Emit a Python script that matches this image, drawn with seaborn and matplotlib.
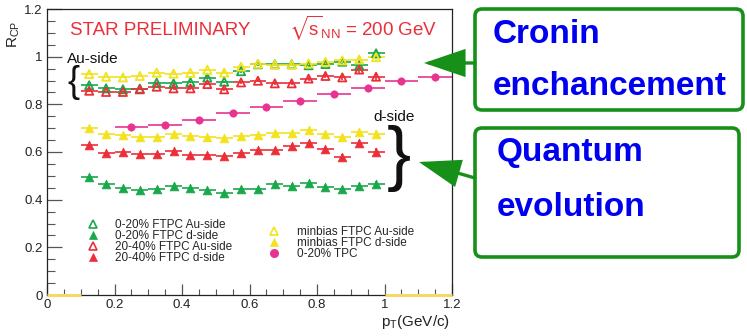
import pandas as pd
import matplotlib
matplotlib.use('Agg')
import matplotlib.pyplot as plt
import seaborn as sns
from matplotlib.lines import Line2D
from matplotlib.patches import FancyBboxPatch, FancyArrowPatch

# FTPC pT bin centres and half widths
ftpc_pt = [0.125, 0.175, 0.225, 0.275, 0.325, 0.375, 0.425, 0.475, 0.525,
           0.575, 0.625, 0.675, 0.725, 0.775, 0.825, 0.875, 0.925, 0.975]
ftpc_xerr = 0.025
ftpc_yerr = [0.004, 0.004, 0.004, 0.004, 0.004, 0.005, 0.005, 0.005, 0.005,
             0.006, 0.006, 0.007, 0.007, 0.008, 0.009, 0.010, 0.013, 0.016]

# R_CP values
c020_au = [0.880, 0.867, 0.863, 0.866, 0.891, 0.888, 0.893, 0.912, 0.895,
           0.939, 0.968, 0.968, 0.968, 0.964, 0.969, 0.979, 0.963, 1.014]
c020_d = [0.496, 0.464, 0.448, 0.441, 0.445, 0.459, 0.448, 0.442, 0.429,
          0.446, 0.445, 0.466, 0.457, 0.469, 0.454, 0.445, 0.457, 0.464]
c2040_au = [0.857, 0.852, 0.852, 0.863, 0.874, 0.867, 0.867, 0.885, 0.863,
            0.892, 0.899, 0.888, 0.888, 0.908, 0.919, 0.913, 0.946, 0.916]
c2040_d = [0.629, 0.597, 0.601, 0.592, 0.590, 0.604, 0.587, 0.587, 0.585,
           0.596, 0.610, 0.608, 0.625, 0.639, 0.613, 0.580, 0.637, 0.600]
mb_au = [0.927, 0.916, 0.913, 0.919, 0.933, 0.929, 0.932, 0.945, 0.933,
         0.958, 0.970, 0.967, 0.967, 0.971, 0.978, 0.984, 0.988, 0.998]
mb_d = [0.699, 0.677, 0.671, 0.664, 0.664, 0.677, 0.667, 0.663, 0.660,
        0.667, 0.673, 0.680, 0.680, 0.692, 0.676, 0.662, 0.683, 0.676]

# TPC 0-20%
tpc_pt = [0.25, 0.35, 0.45, 0.55, 0.65, 0.75, 0.85, 0.95, 1.05, 1.15]
tpc_xerr = 0.05
tpc_yerr = [0.004, 0.004, 0.004, 0.004, 0.004, 0.004, 0.005, 0.005, 0.006, 0.006]
tpc_rcp = [0.704, 0.712, 0.733, 0.762, 0.790, 0.815, 0.843, 0.870, 0.897, 0.916]

# empty minbias bins drawn at zero
zero_lo = [0.0, 1.0]
zero_hi = [0.1, 1.2]

x_ticks = [0, 0.2, 0.4, 0.6, 0.8, 1.0, 1.2]
x_tick_labels = ['0', '0.2', '0.4', '0.6', '0.8', '1', '1.2']
y_ticks = [0, 0.2, 0.4, 0.6, 0.8, 1.0, 1.2]
y_tick_labels = ['0', '0.2', '0.4', '0.6', '0.8', '1', '1.2']

GREEN = '#19a84b'
RED = '#eb2f38'
YELLOW = '#f3e21e'
MAGENTA = '#e8338f'
GOLD = '#f5d76a'
BOXGREEN = '#17901a'
BLUE = '#0000f0'

series = [
    ('0-20% FTPC Au-side', c020_au, GREEN, True),
    ('0-20% FTPC d-side', c020_d, GREEN, False),
    ('20-40% FTPC Au-side', c2040_au, RED, True),
    ('20-40% FTPC d-side', c2040_d, RED, False),
    ('minbias FTPC Au-side', mb_au, YELLOW, True),
    ('minbias FTPC d-side', mb_d, YELLOW, False),
]

sns.set_theme(style='ticks')
plt.rcParams['font.family'] = ['Liberation Sans', 'DejaVu Sans']
plt.rcParams['mathtext.fontset'] = 'custom'
plt.rcParams['mathtext.rm'] = 'Liberation Sans'
plt.rcParams['mathtext.it'] = 'Liberation Sans:italic'
plt.rcParams['mathtext.fallback'] = 'stixsans'

W, H = 747, 336
fig = plt.figure(figsize=(W / 100, H / 100), dpi=100)
ax = fig.add_axes([47 / W, 1 - 295 / H, 405 / W, 286 / H])

def px(x, y):
    # pixel (top-left origin) -> figure fraction
    return x / W, 1 - y / H

# zero-content bins
ax.hlines([0] * len(zero_lo), zero_lo, zero_hi, color=GOLD, lw=2.2, zorder=3, clip_on=False)

for label, vals, col, hollow in series:
    df = pd.DataFrame({'pt': ftpc_pt, 'rcp': vals})
    ax.errorbar(df['pt'], df['rcp'], xerr=ftpc_xerr, yerr=ftpc_yerr, fmt='none',
                ecolor=col, elinewidth=1.2, capsize=0, zorder=2)
    if hollow:
        sns.scatterplot(data=df, x='pt', y='rcp', ax=ax, marker='^', s=34,
                        color=col, fc='none', ec=col, linewidth=1.3, zorder=4, legend=False)
    else:
        sns.scatterplot(data=df, x='pt', y='rcp', ax=ax, marker='^', s=40,
                        color=col, ec=col, linewidth=0.5, zorder=4, legend=False)

tpc_df = pd.DataFrame({'pt': tpc_pt, 'rcp': tpc_rcp})
ax.errorbar(tpc_df['pt'], tpc_df['rcp'], xerr=tpc_xerr, yerr=tpc_yerr, fmt='none',
            ecolor=MAGENTA, elinewidth=1.2, capsize=0, zorder=2)
sns.scatterplot(data=tpc_df, x='pt', y='rcp', ax=ax, marker='o', s=28,
                color=MAGENTA, ec=MAGENTA, linewidth=0.5, zorder=4, legend=False)

ax.set_xlim(0, 1.2)
ax.set_ylim(0, 1.2)
ax.set_xticks(x_ticks)
ax.set_xticklabels(x_tick_labels)
ax.set_yticks(y_ticks)
ax.set_yticklabels(y_tick_labels)
ax.set_xticks([t / 20 for t in range(25)], minor=True)
ax.set_yticks([t / 20 for t in range(25)], minor=True)
ax.tick_params(which='both', direction='in', top=False, right=False,
               colors='#555555', labelcolor='#222222', labelsize=9.5, pad=3)
ax.tick_params(axis='y', which='major', length=11, width=0.9)
ax.tick_params(axis='y', which='minor', length=5.5, width=0.8)
ax.tick_params(axis='x', which='major', length=8, width=0.9)
ax.tick_params(axis='x', which='minor', length=4, width=0.8)
for sp in ax.spines.values():
    sp.set_color('#222222')
    sp.set_linewidth(0.9)
ax.grid(False)

ax.set_ylabel(r'$\mathrm{R}_{\mathrm{CP}}$', fontsize=11, color='#222222')
ax.yaxis.set_label_coords(-0.062, 0.91)
ax.set_xlabel(r'$\mathrm{p}_{\mathrm{T}}$(GeV/c)', fontsize=11, color='#222222', loc='right')
ax.xaxis.set_label_coords(0.995, -0.062)

# headline
fig.text(*px(70, 35), 'STAR PRELIMINARY', color=RED, fontsize=13.5, va='baseline')
fig.text(*px(289, 35), r'$\sqrt{\mathrm{s}}_{\mathrm{NN}}$ = 200 GeV', color=RED,
         fontsize=13.5, va='baseline')

# side labels and braces
fig.text(*px(67, 63), 'Au-side', fontsize=11, color='#111111', va='baseline')
fig.text(*px(73, 82), '{', fontsize=26, color='#111111', ha='center', va='center')
fig.text(*px(373, 121), 'd-side', fontsize=11, color='#111111', va='baseline')
fig.text(*px(399, 159), '}', fontsize=52, color='#111111', ha='center', va='center')

# legends
au_handles = []
for label, vals, col, hollow in series[:4]:
    au_handles.append(Line2D([], [], ls='none', marker='^', markersize=6,
                             mfc='none' if hollow else col, mec=col, mew=1.2 if hollow else 0.5,
                             label=label))
leg1 = ax.legend(handles=au_handles, loc='upper left', bbox_to_anchor=(0.099, 0.265),
                 frameon=False, fontsize=8.5, handlelength=1.0, handletextpad=1.4,
                 labelspacing=-0.08, borderpad=0, borderaxespad=0)
ax.add_artist(leg1)
mb_handles = []
for label, vals, col, hollow in series[4:]:
    mb_handles.append(Line2D([], [], ls='none', marker='^', markersize=6,
                             mfc='none' if hollow else col, mec=col, mew=1.2 if hollow else 0.5,
                             label=label))
mb_handles.append(Line2D([], [], ls='none', marker='o', markersize=5.5, mfc=MAGENTA,
                         mec=MAGENTA, label='0-20% TPC'))
ax.legend(handles=mb_handles, loc='upper left', bbox_to_anchor=(0.547, 0.242),
          frameon=False, fontsize=8.5, handlelength=1.0, handletextpad=1.4,
          labelspacing=-0.08, borderpad=0, borderaxespad=0)

# annotation boxes (inches, bottom-left origin)
def inch(x, y):
    return x / 100, (H - y) / 100

for (x0, y0, x1, y1) in [(475, 9, 743, 110), (475, 128, 739, 257)]:
    bx, by = inch(x0, y1)
    fig.patches.append(FancyBboxPatch((bx, by), (x1 - x0) / 100, (y1 - y0) / 100,
                                      boxstyle='round,pad=0,rounding_size=0.07',
                                      transform=fig.dpi_scale_trans, fc='white',
                                      ec=BOXGREEN, lw=2.6, figure=fig))

for (xa, ya, xb, yb) in [(475, 63, 424, 63), (475, 178, 419, 162)]:
    fig.patches.append(FancyArrowPatch(inch(xa, ya), inch(xb, yb),
                                       arrowstyle='-|>,head_length=25,head_width=8.5',
                                       mutation_scale=1, transform=fig.dpi_scale_trans,
                                       color=BOXGREEN, lw=2.4, shrinkA=0, shrinkB=0,
                                       joinstyle='miter', figure=fig))

for txt, x, y in [('Cronin', 493, 43), ('enchancement', 493, 95),
                  ('Quantum', 497, 161), ('evolution', 497, 216)]:
    fig.text(*px(x, y), txt, color=BLUE, fontsize=24, fontweight='bold', va='baseline')

fig.savefig('out.png', dpi=100)
